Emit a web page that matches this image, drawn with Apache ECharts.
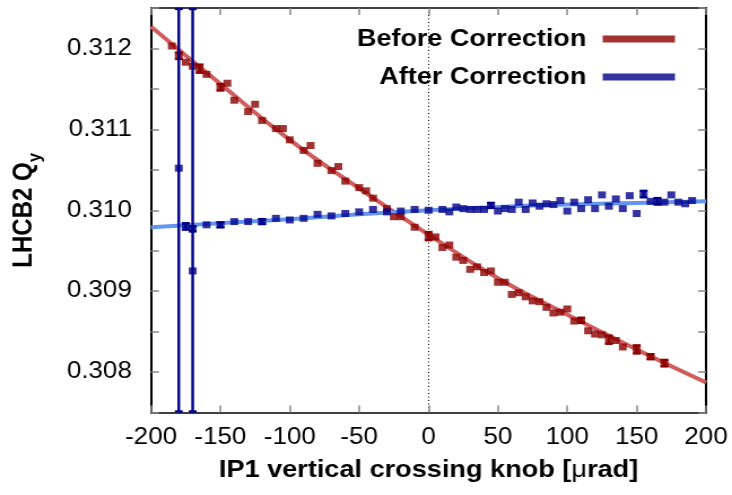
<!DOCTYPE html>
<html>
<head>
<meta charset="utf-8">
<script src="https://cdn.jsdelivr.net/npm/echarts@6/dist/echarts.min.js"></script>
<style>
  html, body { margin: 0; padding: 0; background: #fff; overflow: hidden; }
  /* the plot is laid out narrower and widened horizontally, giving the wide Helvetica look */
  #chart { width: 648px; height: 495px; transform: scaleX(1.12963); transform-origin: 0 0; }
</style>
</head>
<body>
<div id="chart"></div>
<script>
// Tune measurements vs. IP1 vertical crossing knob
var xBefore = [-185, -180, -175, -170, -165, -160, -150, -145, -140, -130, -125, -120,
  -110, -105, -100, -90, -85, -80, -70, -65, -60, -50, -45, -40, -30, -25, -20, -10,
  0, 5, 10, 15, 20, 25, 30, 35, 40, 45, 50, 55, 60, 65, 70, 75, 80, 85, 90, 95, 100,
  105, 110, 115, 120, 125, 130, 135, 140, 150, 160, 170];
var yBefore = [0.31203, 0.31191, 0.31183, 0.31178, 0.31175, 0.31168, 0.31152, 0.31157,
  0.31136, 0.31122, 0.31131, 0.31111, 0.31101, 0.31101, 0.31087, 0.31074, 0.31080,
  0.31058, 0.31049, 0.31054, 0.31036, 0.31028, 0.31024, 0.31015, 0.31002, 0.30992,
  0.30992, 0.30979, 0.30968, 0.30967, 0.30954, 0.30957, 0.30942, 0.30938, 0.30927,
  0.30930, 0.30923, 0.30925, 0.30911, 0.30911, 0.30896, 0.30898, 0.30893, 0.30888,
  0.30887, 0.30880, 0.30873, 0.30874, 0.30878, 0.30863, 0.30864, 0.30851, 0.30847,
  0.30846, 0.30840, 0.30839, 0.30831, 0.30828, 0.30819, 0.30811];
// [knob, half error] for the points whose bars show past the marker
var errBefore = [[-180, 0.00004], [-165, 0.00005], [-150, 0.00004], [0, 0.00005],
  [110, 0.00003], [130, 0.00005], [150, 0.00005], [160, 0.00003], [170, 0.00004]];

var xAfter = [-175, -170, -160, -150, -140, -130, -120, -110, -100, -90, -80, -70, -60,
  -50, -40, -30, -20, -10, 0, 10, 15, 20, 25, 30, 35, 40, 45, 50, 55, 60, 65, 70, 75,
  80, 85, 90, 95, 100, 105, 110, 115, 120, 125, 130, 135, 140, 145, 150, 155, 160, 165,
  170, 175, 180, 185, 190];
var yAfter = [0.30980, 0.30977, 0.30982, 0.30982, 0.30986, 0.30986, 0.30986, 0.30990,
  0.30988, 0.30990, 0.30995, 0.30993, 0.30996, 0.30998, 0.31001, 0.30998, 0.30999,
  0.31001, 0.31000, 0.31001, 0.30998, 0.31004, 0.31002, 0.31001, 0.31001, 0.31001,
  0.31006, 0.30999, 0.31002, 0.31001, 0.31010, 0.31001, 0.31009, 0.31005, 0.31008,
  0.31007, 0.31012, 0.30999, 0.31010, 0.31002, 0.31013, 0.31002, 0.31019, 0.31005,
  0.31014, 0.31002, 0.31018, 0.30996, 0.31020, 0.31011, 0.31011, 0.31010, 0.31019,
  0.31010, 0.31008, 0.31012];
var errAfter = [[-175, 0.00004], [-170, 0.00003], [-150, 0.00003], [-120, 0.00003],
  [45, 0.00003], [155, 0.00004], [165, 0.00004]];
// two settings with very large uncertainty
var xAfterWide = [-180, -170];
var yAfterWide = [0.31052, 0.30925];
var errAfterWide = [0.0035, 0.0040];

// fitted curves, sampled every 50 urad
var fitX = [-200, -150, -100, -50, 0, 50, 100, 150, 200];
var fitBefore = [0.31227, 0.31156, 0.31087, 0.31027, 0.30970, 0.30916, 0.30871, 0.30828, 0.30787];
var fitAfter = [0.30979, 0.30984, 0.30989, 0.30995, 0.31000, 0.31004, 0.31007, 0.31009, 0.31011];

var xTicks = [-200, 200, 50];
var yTicks = [0.3075, 0.3125, 0.0005];

var FONT = '"Liberation Sans", Arial, Helvetica, sans-serif';
var RED = '#8b0000', BLUE = '#00008b';
var RED_FIT = '#cf5f5f', BLUE_FIT = '#6495ed';

function zip(xs, ys) { return xs.map(function (x, i) { return [x, ys[i]]; }); }
function withErrors(xs, ys, errs) {
  return errs.map(function (e) { var i = xs.indexOf(e[0]); return [e[0], ys[i], e[1]]; });
}

function errorBars(data, color, z) {
  return {
    type: 'custom', silent: true, z: z,
    renderItem: function (params, api) {
      var x = api.value(0), y = api.value(1), e = api.value(2);
      var cs = params.coordSys;
      var top = api.coord([x, y + e]), bot = api.coord([x, y - e]);
      var y0 = Math.max(top[1], cs.y + 1), y1 = Math.min(bot[1], cs.y + cs.height - 1);
      var cx = top[0], hw = 3.5;
      var st = { stroke: color, lineWidth: 2.4 };
      return { type: 'group', children: [
        { type: 'line', shape: { x1: cx, y1: y0, x2: cx, y2: y1 }, style: st },
        { type: 'line', shape: { x1: cx - hw, y1: y0, x2: cx + hw, y2: y0 }, style: st },
        { type: 'line', shape: { x1: cx - hw, y1: y1, x2: cx + hw, y2: y1 }, style: st }
      ] };
    },
    encode: { x: 0, y: 1 },
    data: data
  };
}

// dotted zero reference spanning the full plot height
function zeroLine(z) {
  return {
    type: 'custom', silent: true, z: z,
    renderItem: function (params, api) {
      var cs = params.coordSys;
      var p = api.coord([api.value(0), yTicks[0]]);
      var x = Math.round(p[0]) + 0.5;
      return { type: 'line', shape: { x1: x, y1: cs.y, x2: x, y2: cs.y + cs.height },
        style: { stroke: '#000', lineWidth: 1, lineDash: [1, 2.5] } };
    },
    encode: { x: 0, y: 1 },
    data: [[0, yTicks[0]]]
  };
}

var xLine = { show: true, onZero: false, lineStyle: { color: '#000', width: 1.5 } };
var yLine = { show: true, onZero: false, lineStyle: { color: '#000', width: 2 } };
var tick = { show: true, inside: true, length: 7, lineStyle: { color: '#888', width: 1.5 } };

var chart = echarts.init(document.getElementById('chart'), null, { renderer: 'canvas' });
chart.setOption({
  animation: false,
  backgroundColor: '#fff',
  grid: { left: 133.7, right: 23, top: 8, bottom: 82.5 },
  legend: {
    orient: 'vertical', right: 45.5, top: 21, align: 'right',
    icon: 'rect', itemWidth: 64, itemHeight: 7, itemGap: 12,
    textStyle: { fontFamily: FONT, fontSize: 23.9, fontWeight: 'bold', color: '#000',
      lineHeight: 26, padding: [0, 9.5, 0, 0] },
    data: ['Before Correction', 'After Correction']
  },
  xAxis: [{
    type: 'value', min: xTicks[0], max: xTicks[1], interval: xTicks[2],
    axisLine: xLine, axisTick: tick, splitLine: { show: false },
    axisLabel: { fontFamily: FONT, fontSize: 23, color: '#000', margin: 14 },
    name: '{b|IP1 vertical crossing knob [}{m|\u03bc}{b|rad]}',
    nameLocation: 'middle', nameGap: 46,
    nameTextStyle: { rich: {
      b: { fontFamily: FONT, fontSize: 24, fontWeight: 'bold', color: '#000' },
      m: { fontFamily: FONT, fontSize: 24, fontWeight: 'normal', color: '#000' }
    } }
  }, {
    type: 'value', position: 'top', min: xTicks[0], max: xTicks[1], interval: xTicks[2],
    axisLine: xLine, axisTick: tick, splitLine: { show: false }, axisLabel: { show: false }
  }],
  yAxis: [{
    type: 'value', position: 'left', min: yTicks[0], max: yTicks[1], interval: yTicks[2],
    axisLine: yLine, axisTick: tick, splitLine: { show: false },
    axisLabel: { fontFamily: FONT, fontSize: 23, color: '#000', margin: 17,
      formatter: function (v) { return Math.round(v * 2000) % 2 === 0 ? v.toFixed(3) : ''; } },
    name: '{b|LHCB2 Q}{s|y}', nameLocation: 'middle', nameRotate: 90, nameGap: 96,
    nameTextStyle: { rich: {
      b: { fontFamily: FONT, fontSize: 24, fontWeight: 'bold', color: '#000', lineHeight: 28, verticalAlign: 'top' },
      s: { fontFamily: FONT, fontSize: 17, fontWeight: 'bold', color: '#000', lineHeight: 18, padding: [13, 0, 0, 0], verticalAlign: 'top' }
    } }
  }, {
    type: 'value', position: 'right', min: yTicks[0], max: yTicks[1], interval: yTicks[2],
    axisLine: yLine, axisTick: tick, splitLine: { show: false }, axisLabel: { show: false }
  }],
  series: [
    zeroLine(0),
    { name: 'fit before', type: 'line', smooth: true, showSymbol: false, silent: true, z: 1,
      lineStyle: { color: RED_FIT, width: 4 }, data: zip(fitX, fitBefore) },
    { name: 'fit after', type: 'line', smooth: true, showSymbol: false, silent: true, z: 1,
      lineStyle: { color: BLUE_FIT, width: 4 }, data: zip(fitX, fitAfter) },
    { name: 'Before Correction', type: 'scatter', symbol: 'rect', symbolSize: 7, z: 3,
      itemStyle: { color: RED }, data: zip(xBefore, yBefore) },
    errorBars(withErrors(xBefore, yBefore, errBefore), RED, 3),
    errorBars(xAfterWide.map(function (x, i) { return [x, yAfterWide[i], errAfterWide[i]]; }), BLUE, 4),
    errorBars(withErrors(xAfter, yAfter, errAfter), BLUE, 4),
    { name: 'After Correction', type: 'scatter', symbol: 'rect', symbolSize: 7, z: 5,
      itemStyle: { color: BLUE }, data: zip(xAfter, yAfter).concat(zip(xAfterWide, yAfterWide)) }
  ]
});
</script>
</body>
</html>
